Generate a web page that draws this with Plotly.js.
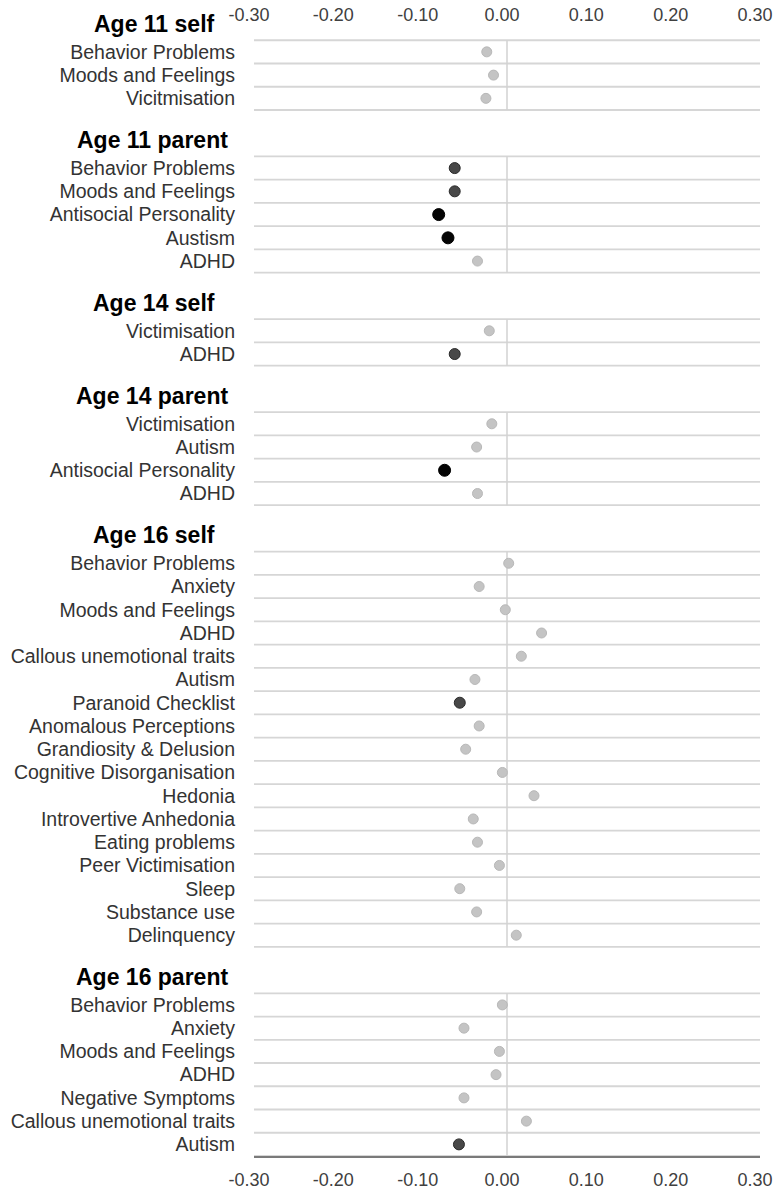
<!DOCTYPE html>
<html>
<head>
<meta charset="utf-8">
<script src="https://cdn.plot.ly/plotly-3.0.1.min.js"></script>
<style>html,body{margin:0;padding:0;background:#fff}#chart{width:779px;height:1193px}</style>
</head>
<body>
<div id="chart"></div>
<script>
// ---- data ----
const groupNames = ['Age 11 self', 'Age 11 parent', 'Age 14 self', 'Age 14 parent', 'Age 16 self', 'Age 16 parent'];

const age11SelfLabels = ['Behavior Problems', 'Moods and Feelings', 'Vicitmisation'];
const age11SelfValues = [-0.024, -0.016, -0.025];
const age11SelfLevels = [0, 0, 0];

const age11ParentLabels = ['Behavior Problems', 'Moods and Feelings', 'Antisocial Personality', 'Austism', 'ADHD'];
const age11ParentValues = [-0.062, -0.062, -0.081, -0.070, -0.035];
const age11ParentLevels = [1, 1, 2, 2, 0];

const age14SelfLabels = ['Victimisation', 'ADHD'];
const age14SelfValues = [-0.021, -0.062];
const age14SelfLevels = [0, 1];

const age14ParentLabels = ['Victimisation', 'Autism', 'Antisocial Personality', 'ADHD'];
const age14ParentValues = [-0.018, -0.036, -0.074, -0.035];
const age14ParentLevels = [0, 0, 2, 0];

const age16SelfLabels = ['Behavior Problems', 'Anxiety', 'Moods and Feelings', 'ADHD', 'Callous unemotional traits',
  'Autism', 'Paranoid Checklist', 'Anomalous Perceptions', 'Grandiosity & Delusion', 'Cognitive Disorganisation',
  'Hedonia', 'Introvertive Anhedonia', 'Eating problems', 'Peer Victimisation', 'Sleep', 'Substance use', 'Delinquency'];
const age16SelfValues = [0.002, -0.033, -0.002, 0.041, 0.017, -0.038, -0.056, -0.033, -0.049, -0.0055,
  0.032, -0.040, -0.035, -0.009, -0.056, -0.036, 0.011];
const age16SelfLevels = [0, 0, 0, 0, 0, 0, 1, 0, 0, 0, 0, 0, 0, 0, 0, 0, 0];

const age16ParentLabels = ['Behavior Problems', 'Anxiety', 'Moods and Feelings', 'ADHD', 'Negative Symptoms',
  'Callous unemotional traits', 'Autism'];
const age16ParentValues = [-0.0055, -0.051, -0.009, -0.013, -0.051, 0.023, -0.057];
const age16ParentLevels = [0, 0, 0, 0, 0, 0, 1];

const xTickVals = [-0.30, -0.20, -0.10, 0.00, 0.10, 0.20, 0.30];
const xTickText = ['-0.30', '-0.20', '-0.10', '0.00', '0.10', '0.20', '0.30'];

// ---- build ----
const groupLabels = [age11SelfLabels, age11ParentLabels, age14SelfLabels, age14ParentLabels, age16SelfLabels, age16ParentLabels];
const groupValues = [age11SelfValues, age11ParentValues, age14SelfValues, age14ParentValues, age16SelfValues, age16ParentValues];
const groupLevels = [age11SelfLevels, age11ParentLevels, age14SelfLevels, age14ParentLevels, age16SelfLevels, age16ParentLevels];

const levelColor = ['#c4c4c4', '#484848', '#050505'];
const levelLine = ['#b8b8b8', '#2a2a2a', '#000000'];
const levelSize = [10, 11, 12];

const cats = [], tickText = [];
const px = [], py = [], pc = [], pl = [], ps = [];
const annotations = [], shapes = [];

groupNames.forEach((g, gi) => {
  if (gi > 0) { const b = 'blank' + gi; cats.push(b); tickText.push(''); }
  const hk = 'H|' + g; cats.push(hk); tickText.push('');
  annotations.push({
    xref: 'paper', yref: 'y', x: 0, y: hk, xanchor: 'right', yanchor: 'middle',
    xshift: g.endsWith('self') ? -37 : -24, yshift: 5, showarrow: false,
    text: '<b>' + g + '</b>', font: {family: 'Liberation Sans, Arial, sans-serif', size: 23, color: '#000'}
  });
  const first = cats.length;
  groupLabels[gi].forEach((lab, i) => {
    const k = g + '|' + lab; cats.push(k); tickText.push(lab);
    px.push(groupValues[gi][i]); py.push(k);
    const lv = groupLevels[gi][i];
    pc.push(levelColor[lv]); pl.push(levelLine[lv]); ps.push(levelSize[lv]);
  });
  const last = cats.length - 1;
  // zero reference line within the group
  shapes.push({type: 'line', layer: 'below', xref: 'x', yref: 'y', x0: 0, x1: 0, y0: first - 0.5, y1: last + 0.5,
    line: {color: '#d2d2d2', width: 1.5}});
  // row separators
  for (let r = first - 0.5; r <= last + 0.5; r += 1) {
    shapes.push({type: 'line', layer: 'below', xref: 'paper', yref: 'y', x0: 0, x1: 1, y0: r, y1: r,
      line: {color: '#d6d6d6', width: 1.8}});
  }
});

const trace = {
  type: 'scatter', mode: 'markers', x: px, y: py,
  marker: {color: pc, size: ps, opacity: 1, line: {color: pl, width: 1}},
  hoverinfo: 'x+y', cliponaxis: false
};
const topTrace = {type: 'scatter', mode: 'markers', x: [], y: [], xaxis: 'x2', yaxis: 'y', showlegend: false};

const tickFont = {family: 'Liberation Sans, Arial, sans-serif', size: 18, color: '#404040'};
const layout = {
  width: 779, height: 1193,
  margin: {l: 254, r: 19, t: 17, b: 37},
  paper_bgcolor: '#fff', plot_bgcolor: '#fff',
  showlegend: false,
  font: {family: 'Liberation Sans, Arial, sans-serif'},
  xaxis: {
    range: [-0.30, 0.30], tickvals: xTickVals, ticktext: xTickText, showgrid: false, zeroline: false,
    showline: true, linecolor: '#7a7a7a', linewidth: 2, ticks: '', tickfont: tickFont,
    ticklabelstandoff: 6, ticklabelshift: -5, fixedrange: true
  },
  xaxis2: {
    overlaying: 'x', matches: 'x', side: 'top', anchor: 'free', position: 0.993,
    range: [-0.30, 0.30], tickvals: xTickVals, ticktext: xTickText, showgrid: false, zeroline: false,
    showline: false, ticks: '', tickfont: tickFont, ticklabelshift: -5
  },
  yaxis: {
    type: 'category', categoryorder: 'array', categoryarray: cats,
    tickvals: cats, ticktext: tickText, range: [cats.length - 0.5, -0.5],
    showgrid: false, zeroline: false, showline: false, ticks: '',
    tickfont: {family: 'Liberation Sans, Arial, sans-serif', size: 19.5, color: '#333333'},
    ticklabelstandoff: 18
  },
  shapes: shapes,
  annotations: annotations
};

Plotly.newPlot('chart', [trace, topTrace], layout, {displayModeBar: false, staticPlot: true});
</script>
</body>
</html>
